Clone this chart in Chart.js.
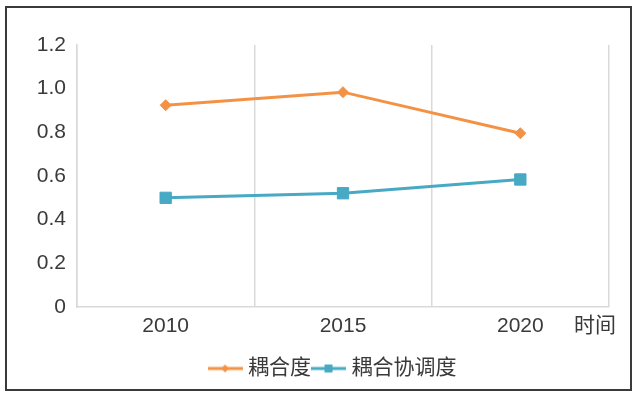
<!DOCTYPE html>
<html><head><meta charset="utf-8">
<script src="https://cdn.jsdelivr.net/npm/chart.js@4"></script>
<style>
html,body{margin:0;padding:0;background:#fff;}
#wrap{position:relative;width:638px;height:398px;}
#frame{position:absolute;left:5px;top:6px;width:623px;height:381px;border:2px solid #3a3a3a;pointer-events:none;}
canvas{position:absolute;left:0;top:0;}
</style></head>
<body>
<div id="wrap"><canvas id="c" width="638" height="398"></canvas><div id="frame"></div></div>
<script>
const categories = ['2010', '2015', '2020'];
const couplingDegree = [0.924, 0.984, 0.796];
const coordinationDegree = [0.500, 0.521, 0.584];
const seriesNames = ['耦合度', '耦合协调度'];
const xAxisName = '时间';
const yTicks = [0, 0.2, 0.4, 0.6, 0.8, 1.0, 1.2];

const ORANGE = '#F39245';
const BLUE = '#47A9C4';
const TEXT = '#3a3a3a';
const FONT = '"Liberation Sans", "Noto Sans CJK SC", sans-serif';

function legendIcon(color, shape) {
  const c = document.createElement('canvas');
  c.width = 35; c.height = 12;
  const g = c.getContext('2d');
  g.strokeStyle = color; g.lineWidth = 3;
  g.beginPath(); g.moveTo(0, 6); g.lineTo(35, 6); g.stroke();
  g.fillStyle = color;
  g.beginPath();
  if (shape === 'diamond') {
    g.moveTo(17.5, 2); g.lineTo(21.5, 6); g.lineTo(17.5, 10); g.lineTo(13.5, 6);
  } else {
    g.rect(13.5, 2, 8, 8);
  }
  g.closePath(); g.fill();
  return c;
}

const axisNamePlugin = {
  id: 'axisName',
  afterLayout(chart) {
    if (chart.legend) { chart.legend.left += 20; chart.legend.right += 20; }
  },
  afterDraw(chart) {
    const ctx = chart.ctx;
    ctx.save();
    ctx.font = '21px ' + FONT;
    ctx.fillStyle = TEXT;
    ctx.textAlign = 'center';
    ctx.textBaseline = 'middle';
    ctx.fillText(xAxisName, chart.chartArea.right - 14, chart.chartArea.bottom + 19);
    ctx.restore();
  }
};

new Chart(document.getElementById('c'), {
  type: 'line',
  data: {
    labels: categories,
    datasets: [
      {
        label: seriesNames[0], data: couplingDegree,
        borderColor: ORANGE, backgroundColor: ORANGE, borderWidth: 3,
        pointStyle: 'rectRot', pointRadius: 5.5, pointBorderWidth: 1,
        pointBackgroundColor: ORANGE, pointBorderColor: ORANGE, tension: 0
      },
      {
        label: seriesNames[1], data: coordinationDegree,
        borderColor: BLUE, backgroundColor: BLUE, borderWidth: 3,
        pointStyle: 'rect', pointRadius: 8, pointBorderWidth: 1,
        pointBackgroundColor: BLUE, pointBorderColor: BLUE, tension: 0
      }
    ]
  },
  options: {
    responsive: false,
    animation: false,
    events: [],
    layout: { padding: { left: 20, right: 29, top: 45, bottom: 9 } },
    plugins: {
      tooltip: { enabled: false },
      legend: {
        position: 'bottom',
        labels: {
          usePointStyle: true,
          pointStyleWidth: 25,
          padding: 5,
          color: TEXT,
          font: { size: 21, family: FONT },
          generateLabels(chart) {
            return chart.data.datasets.map((ds, i) => ({
              text: ds.label,
              pointStyle: legendIcon(ds.borderColor, i === 0 ? 'diamond' : 'square'),
              fillStyle: ds.borderColor, strokeStyle: ds.borderColor,
              lineWidth: 0, fontColor: TEXT, datasetIndex: i, hidden: false
            }));
          }
        }
      }
    },
    scales: {
      x: {
        offset: true,
        afterFit(scale) { scale.height = 46; },
        grid: { display: true, offset: true, drawTicks: false, color: '#d9d9d9', lineWidth: 1.5 },
        border: { display: true, color: '#d9d9d9', width: 1.5 },
        ticks: { padding: 7, color: TEXT, font: { size: 21, family: FONT } }
      },
      y: {
        min: 0, max: 1.2,
        afterFit(scale) { scale.width = 57; },
        afterBuildTicks(scale) { scale.ticks = yTicks.map(v => ({ value: v })); },
        grid: { display: false, drawTicks: false },
        border: { display: true, color: '#d9d9d9', width: 1.5 },
        ticks: {
          padding: 11, color: TEXT, font: { size: 21, family: FONT },
          callback: v => (v === 0 ? '0' : Number(v).toFixed(1))
        }
      }
    }
  },
  plugins: [axisNamePlugin]
});
</script>
</body></html>
